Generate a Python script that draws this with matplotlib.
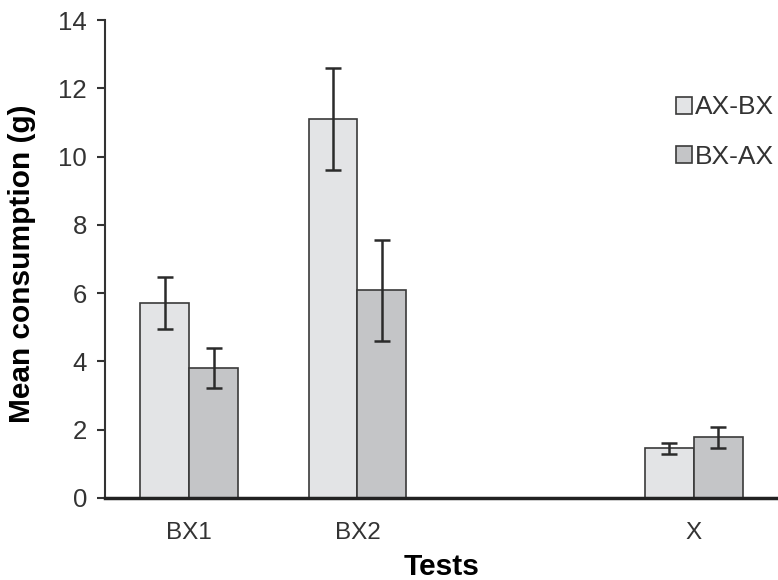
import matplotlib.pyplot as plt
import numpy as np

plt.rcParams['font.family'] = ['Liberation Sans', 'DejaVu Sans']

# Tests and mean consumption (g) for each group, with error bar half-lengths
tests = ['BX1', 'BX2', '', 'X']
ax_bx = [5.70, 11.10, np.nan, 1.45]
ax_bx_err = [0.76, 1.49, np.nan, 0.17]
bx_ax = [3.80, 6.08, np.nan, 1.78]
bx_ax_err = [0.59, 1.49, np.nan, 0.31]

fig = plt.figure(figsize=(7.78, 5.8), dpi=100)
ax = fig.add_axes([0.135, 0.1414, 0.865, 0.824])

x = np.arange(len(tests))
w = 0.29
err_kw = dict(ecolor='#2b2b2b', elinewidth=1.8, capsize=6, capthick=1.8)
ax.bar(x - w / 2, ax_bx, w, yerr=ax_bx_err, color='#e3e4e6', edgecolor='#3a3a3a',
       linewidth=1.2, error_kw=err_kw, label='AX-BX')
ax.bar(x + w / 2, bx_ax, w, yerr=bx_ax_err, color='#c4c5c7', edgecolor='#3a3a3a',
       linewidth=1.2, error_kw=err_kw, label='BX-AX')

ax.set_xlim(-0.5, 3.5)
ax.set_ylim(0, 14)
ax.set_yticks(range(0, 15, 2))
ax.set_xticks(x)
ax.set_xticklabels(tests)
ax.tick_params(axis='x', length=0, pad=17, labelsize=17.5, colors='#333333')
ax.tick_params(axis='y', length=6, width=1.5, direction='out', labelsize=18.5,
               colors='#333333', pad=7)
ax.spines['top'].set_visible(False)
ax.spines['right'].set_visible(False)
ax.spines['left'].set_linewidth(1.5)
ax.spines['left'].set_color('#333333')
ax.spines['bottom'].set_linewidth(2.5)
ax.spines['bottom'].set_color('#222222')

ax.set_ylabel('Mean consumption (g)', fontsize=21.5, fontweight='bold')
ax.yaxis.set_label_coords(-0.102, 0.49)
ax.set_xlabel('Tests', fontsize=21.5, fontweight='bold', labelpad=7)

ax.legend(loc='upper right', bbox_to_anchor=(1.03, 0.892), frameon=False,
          fontsize=19, handlelength=0.6, handleheight=0.6, handletextpad=0.12,
          labelspacing=0.95, labelcolor='#333333')

fig.savefig('out.png', dpi=100)
